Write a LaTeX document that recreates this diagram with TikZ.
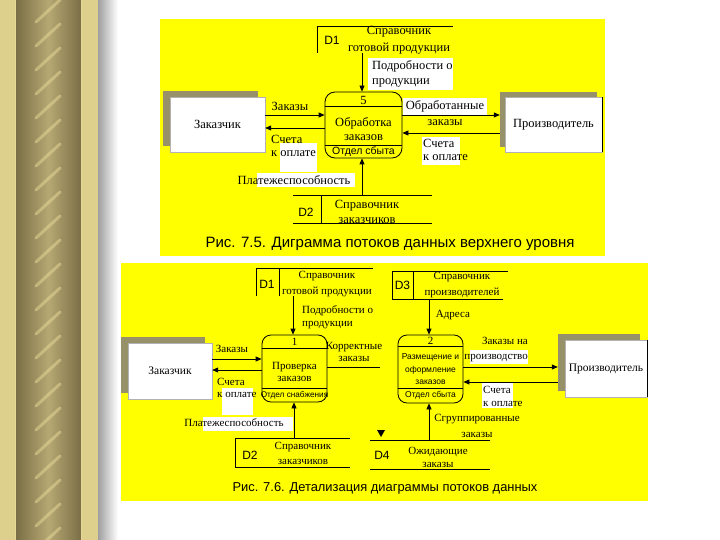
\documentclass[tikz,border=0pt]{standalone}
\usepackage{fontspec}
\setmainfont{Liberation Serif}
\newfontfamily\arial{Liberation Sans}
\usetikzlibrary{arrows.meta,shadows}
\definecolor{yel}{RGB}{255,255,0}
\definecolor{shad}{RGB}{150,145,105}
\definecolor{khaki}{RGB}{220,208,140}
\definecolor{olivd}{RGB}{122,110,70}
\definecolor{hilite}{RGB}{232,216,152}
\begin{document}
\begin{tikzpicture}[x=1pt,y=-1pt,
  lbl/.style={font=\fontsize{12.5}{15}\selectfont, inner sep=0pt, align=center},
  lbls/.style={font=\fontsize{11}{13}\selectfont, inner sep=0pt, align=center},
  sml/.style={font=\arial\fontsize{8.5}{12.5}\selectfont, inner sep=0pt, align=center},
  dlab/.style={font=\arial\fontsize{12}{14}\selectfont, inner sep=0pt},
  flow/.style={-{Triangle[length=6pt,width=5pt]}, line width=0.8pt},
  plain/.style={line width=0.8pt},
  ent/.style={draw=gray!60, line width=0.4pt, fill=white, inner sep=0pt},
  proc/.style={draw, line width=0.8pt, rounded corners=10pt, inner sep=0pt}
]
\useasboundingbox (0,0) rectangle (720,540);
\fill[white] (0,0) rectangle (720,540);
% ---- rope border ----
\fill[khaki] (0,0) rectangle (98,540);
\shade[left color=olivd, right color=olivd, middle color=hilite!55!olivd] (16,0) rectangle (81,540);
\foreach \k in {-1,...,23}
  \draw[hilite, line width=3pt, line cap=round, opacity=0.5] (36,\k*24+22) -- (60,\k*24);
\draw[hilite, line width=0.8pt] (15.5,0) -- (15.5,540);
\draw[hilite, line width=0.8pt] (81.5,0) -- (81.5,540);
\shade[left color=gray!75, right color=white] (98,0) rectangle (118,540);
% ---- panels ----
\fill[yel] (160,19) rectangle (605,256);
\fill[yel] (121,263) rectangle (648,501);

% ================= TOP DIAGRAM =================
\node[ent, minimum width=95pt, minimum height=55pt,
  drop shadow={shadow xshift=-7pt,shadow yshift=5.5pt,fill=shad,opacity=1},
  font=\fontsize{12.5}{15}\selectfont] (zak1) at (217.5,124.5) {Заказчик};
\node[ent, minimum width=97pt, minimum height=55pt,
  drop shadow={shadow xshift=-5pt,shadow yshift=5pt,fill=shad,opacity=1},
  font=\fontsize{12.5}{15}\selectfont] (prz1) at (553.5,124.5) {Производитель};
\draw[line width=0.8pt] (prz1.north east) -- (prz1.south east);
\node[proc, minimum width=77pt, minimum height=66pt] (p5) at (363.5,125) {};
\draw[plain] ([yshift=-15pt]p5.north west) -- ([yshift=-15pt]p5.north east);
\draw[plain] ([yshift=13pt]p5.south west) -- ([yshift=13pt]p5.south east);
\node[lbl] (p5n) at (363.5,100) {5};
\node[lbl, font=\fontsize{12.5}{14}\selectfont] (p5t) at (363.5,129.5) {Обработка\\заказов};
\node[sml, font=\arial\fontsize{10.5}{12}\selectfont] (p5d) at (363.5,151.5) {Отдел сбыта};

% D1 store
\draw[plain] (317,53) -- (317,26) -- (453,26);
\node[dlab] (d1a) at (332,40) {D1};
\node[lbl, font=\fontsize{12.5}{17}\selectfont] (d1b) at (399,40) {Справочник\\готовой продукции};
% D2 store
\draw[plain] (293,195) -- (432,195);
\draw[plain] (293,223) -- (432,223);
\draw[plain] (321,195) -- (321,223);
\node[dlab] (d2a) at (306,212) {D2};
\node[lbl] (d2b) at (367,211.5) {Справочник\\заказчиков};

\coordinate (c1) at (362,53);
\coordinate (c2) at (362,195);
\coordinate (r1) at (300,115);
\coordinate (r2) at (300,128);
\coordinate (r3) at (450,133);
\coordinate (prz1s) at ([xshift=-5pt]prz1.west);

\draw[flow] (c1) -- (c1 |- p5.north);
\draw[flow] (c2) -- (c2 |- p5.south);
\draw[flow] (zak1.east |- r1) -- (p5.west |- r1);
\draw[flow] (p5.west |- r2) -- (zak1.east |- r2);
\draw[flow] (p5.east |- r1) -- (prz1s |- r1);
\draw[flow] (prz1s |- r3) -- (p5.east |- r3);

% top labels
\fill[white] (368,58) rectangle (453,90);
\node[lbl, align=left, anchor=west, font=\fontsize{12.5}{15.5}\selectfont] (l1) at (372,74) {Подробности о\\продукции};
\node[lbl] (l2) at (290,106) {Заказы};
\fill[white] (280,143) rectangle (317,172);
\node[lbl, align=left, anchor=west, font=\fontsize{12.5}{12.5}\selectfont] (l3) at (271,146) {Счета\\к оплате};
\fill[white] (403,98) rectangle (487,115);
\node[lbl] (l4) at (445,106) {Обработанные};
\node[lbl] (l5) at (445,123) {заказы};
\fill[white] (422,137) rectangle (460,165);
\node[lbl, align=left, anchor=west, font=\fontsize{12.5}{13}\selectfont] (l6) at (423,149.5) {Счета\\к оплате};
\fill[white] (257,173) rectangle (355,187);
\node[lbl] (l7) at (294,180) {Платежеспособность};

\node[font=\arial\fontsize{15}{17}\selectfont, inner sep=0pt] (cap1) at (390,244) {Рис. 7.5. Диграмма потоков данных верхнего уровня};

% ================= LOWER DIAGRAM =================
\node[ent, minimum width=84pt, minimum height=56pt,
  drop shadow={shadow xshift=-7pt,shadow yshift=6pt,fill=shad,opacity=1},
  font=\fontsize{11.5}{14}\selectfont] (zak2) at (170,371) {Заказчик};
\node[ent, minimum width=82pt, minimum height=57pt,
  drop shadow={shadow xshift=-7pt,shadow yshift=6pt,fill=shad,opacity=1},
  font=\fontsize{11.5}{14}\selectfont] (prz2) at (606,368.5) {Производитель};
\draw[line width=0.8pt] (prz2.north east) -- (prz2.south east);

\node[proc, rounded corners=9pt, minimum width=65pt, minimum height=67pt] (p1) at (294.5,368.5) {};
\draw[plain] ([yshift=-14pt]p1.north west) -- ([yshift=-14pt]p1.north east);
\draw[plain] ([yshift=14pt]p1.south west) -- ([yshift=14pt]p1.south east);
\node[lbls] (p1n) at (294.5,342) {1};
\node[lbls, font=\fontsize{11}{12.5}\selectfont] (p1t) at (294.5,372) {Проверка\\заказов};
\node[sml, font=\arial\fontsize{8.2}{12}\selectfont] (p1d) at (294.5,395) {Отдел снабжения};

\node[proc, rounded corners=9pt, minimum width=65pt, minimum height=68pt] (p2) at (430.5,369) {};
\draw[plain] ([yshift=-12pt]p2.north west) -- ([yshift=-12pt]p2.north east);
\draw[plain] ([yshift=15pt]p2.south west) -- ([yshift=15pt]p2.south east);
\node[lbls] (p2n) at (430.5,341) {2};
\node[sml] (p2t) at (430.5,369.5) {Размещение и\\оформление\\заказов};
\node[sml] (p2d) at (430.5,395.5) {Отдел сбыта};

% D1 lower
\draw[plain] (256,296) -- (256,268) -- (373,268);
\draw[plain] (279,268) -- (279,296);
\node[dlab] (e1a) at (267,284) {D1};
\node[lbls, font=\fontsize{11}{16}\selectfont] (e1b) at (327,284.5) {Справочник\\готовой продукции};
% D3
\draw[plain] (508,271) -- (392,271) -- (392,299) -- (503,299);
\draw[plain] (413,271) -- (413,299);
\node[dlab] (e3a) at (402.5,285) {D3};
\node[lbls, font=\fontsize{11}{16}\selectfont] (e3b) at (462,285.5) {Справочник\\производителей};
% D2 lower
\draw[plain] (350,438) -- (235,438) -- (235,467) -- (350,467);
\node[dlab] (e2a) at (250,455) {D2};
\node[lbls, font=\fontsize{11}{15}\selectfont] (e2b) at (303,453) {Справочник\\заказчиков};
% D4
\draw[plain] (370,440) -- (490,440);
\draw[plain] (370,469) -- (490,469);
\node[dlab] (e4a) at (382,455) {D4};
\node[lbls, font=\fontsize{11}{13}\selectfont] (e4b) at (438,457) {Ожидающие\\заказы};
\fill (377,430) -- (385,430) -- (381,437) -- cycle;

\coordinate (k1) at (293,296);
\coordinate (k2) at (294,438);
\coordinate (k3) at (429,299);
\coordinate (k4) at (429,440);
\coordinate (s1) at (240,359);
\coordinate (s2) at (240,370);
\coordinate (s3) at (350,367);
\coordinate (kend) at (380,367);
\coordinate (s4) at (500,367);
\coordinate (s5) at (500,382);
\coordinate (prz2s) at ([xshift=-7pt]prz2.west);

\draw[flow] (k1) -- (k1 |- p1.north);
\draw[flow] (k2) -- (k2 |- p1.south);
\draw[flow] (k3) -- (k3 |- p2.north);
\draw[flow] (k4) -- (k4 |- p2.south);
\draw[flow] (zak2.east |- s1) -- (p1.west |- s1);
\draw[flow] (p1.west |- s2) -- (zak2.east |- s2);
\draw[plain] (p1.east |- s3) -- (kend);
\draw[flow] (p2.east |- s4) -- (prz2s |- s4);
\draw[flow] (prz2s |- s5) -- (p2.east |- s5);

% lower labels
\node[lbls, align=left, anchor=west, font=\fontsize{11}{13}\selectfont] (m1) at (302,317) {Подробности о\\продукции};
\node[lbls, font=\fontsize{11}{12}\selectfont] (m2) at (354,351.5) {Корректные\\заказы};
\node[lbls] (m3) at (232,349) {Заказы};
\fill[white] (222,388) rectangle (253,415);
\node[lbls, align=left, anchor=west, font=\fontsize{11}{11.5}\selectfont] (m4) at (217,388) {Счета\\к оплате};
\fill[white] (203,417) rectangle (293,431);
\node[lbls] (m5) at (234,423) {Платежеспособность};
\node[lbls] (m6) at (453,315) {Адреса};
\fill[white] (470,350) rectangle (528,364);
\node[lbls, align=right, anchor=east, font=\fontsize{11}{15}\selectfont] (m7) at (528,350) {Заказы на\\производство};
\fill[white] (482,383) rectangle (513,408);
\node[lbls, align=left, anchor=west, font=\fontsize{11}{13}\selectfont] (m8) at (483,396) {Счета\\к оплате};
\node[lbls, font=\fontsize{11}{16}\selectfont] (m9) at (477,425.5) {Сгруппированные\\заказы};

\node[font=\arial\fontsize{12.9}{15}\selectfont, inner sep=0pt] (cap2) at (385,488) {Рис. 7.6. Детализация диаграммы потоков данных};
\end{tikzpicture}
\end{document}
